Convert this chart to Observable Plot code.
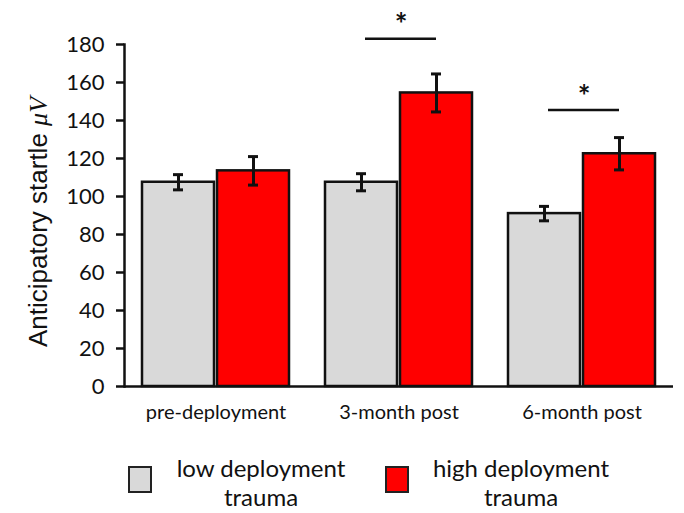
<!DOCTYPE html>
<html><head><meta charset="utf-8">
<script src="https://cdn.jsdelivr.net/npm/d3@7"></script>
<script src="https://cdn.jsdelivr.net/npm/@observablehq/plot@0.6"></script>
<style>
body{margin:0;background:#fff;}
#wrap{position:relative;width:684px;height:513px;font-family:Lato,sans-serif;overflow:hidden;}
#chart svg{display:block;}
.sw{position:absolute;top:41px;height:27px;box-sizing:border-box;border:2px solid #222;}
.lt{position:absolute;top:28px;width:220px;font-size:24px;line-height:29px;text-align:center;color:#111;}
</style></head><body>
<div id="wrap"><div id="chart"></div>
<div id="legend"></div>
</div>
<script>
const categories = ["pre-deployment", "3-month post", "6-month post"];
const groups = ["low deployment trauma", "high deployment trauma"];
const lowMeans = [107.5, 107.5, 91];
const lowErr = [4, 4.5, 3.8];
const highMeans = [113.5, 154.5, 122.5];
const highErr = [7.5, 10, 8.5];
const sigCategories = ["3-month post", "6-month post"];
const sigLevels = [183, 145.5];
const yTicks = [0, 20, 40, 60, 80, 100, 120, 140, 160, 180];
const colors = ["#d9d9d9", "#ff0000"];
const legendLines = [["low deployment", "trauma"], ["high deployment", "trauma"]];

const data = categories.flatMap((c, i) => [
  {cat: c, group: groups[0], mean: lowMeans[i], err: lowErr[i]},
  {cat: c, group: groups[1], mean: highMeans[i], err: highErr[i]}
]);
const sig = sigCategories.map((c, i) => ({cat: c, y: sigLevels[i]}));

const plot = Plot.plot({
  width: 684, height: 425,
  marginLeft: 124, marginRight: 11, marginTop: 44, marginBottom: 39,
  style: {fontFamily: "Lato, sans-serif", background: "#fff", overflow: "visible", color: "#111"},
  fx: {domain: categories, padding: 0, label: null},
  x: {domain: groups, paddingInner: 0.04, paddingOuter: 0.224, axis: null},
  y: {domain: [0, 180], label: null},
  color: {domain: groups, range: colors},
  marks: [
    Plot.barY(data, {fx: "cat", x: "group", y: "mean", fill: "group", stroke: "#111", strokeWidth: 2.5}),
    Plot.ruleX(data, {fx: "cat", x: "group", y1: d => d.mean - d.err, y2: d => d.mean + d.err, stroke: "#111", strokeWidth: 3}),
    Plot.tickY(data, {fx: "cat", x: "group", y: d => d.mean - d.err, insetLeft: 31, insetRight: 31, stroke: "#111", strokeWidth: 3}),
    Plot.tickY(data, {fx: "cat", x: "group", y: d => d.mean + d.err, insetLeft: 31, insetRight: 31, stroke: "#111", strokeWidth: 3}),
    Plot.ruleY([0], {stroke: "#111", strokeWidth: 2.5}),
    Plot.frame({anchor: "left", facetAnchor: "left", stroke: "#111", strokeWidth: 2.5}),
    Plot.axisY({ticks: yTicks, tickSize: 8, tickPadding: 12, fontSize: 22, label: null, strokeWidth: 2.5}),
    Plot.axisFx({anchor: "bottom", tickSize: 0, tickPadding: 18, fontSize: 20, label: null}),
    Plot.ruleY(sig, {fx: "cat", y: "y", insetLeft: 58, insetRight: 54, stroke: "#111", strokeWidth: 2.5}),
    Plot.text(sig, {fx: "cat", y: "y", text: () => "*", dy: -13, dx: 2, fontSize: 30, fontWeight: "bold", fill: "#111"})
  ]
});

const svg = d3.select(plot);
const lab = svg.append("text")
  .attr("transform", "translate(38,222) rotate(-90)")
  .attr("text-anchor", "middle")
  .attr("dominant-baseline", "central")
  .attr("fill", "#111")
  .style("font-size", "26px");
lab.append("tspan").style("font-family", "'Liberation Sans', Arial, sans-serif").text("Anticipatory startle ");
lab.append("tspan").style("font-family", "'Liberation Serif', serif").style("font-style", "italic").text("μV");

document.getElementById("chart").appendChild(plot);

const legend = document.getElementById("legend");
legend.style.position = "absolute"; legend.style.left = "0"; legend.style.top = "425px";
legend.style.width = "684px"; legend.style.height = "88px";
const swLeft = [128, 385], txtCenter = [261, 521];
groups.forEach((g, i) => {
  const sw = document.createElement("div");
  sw.className = "sw"; sw.style.left = swLeft[i] + "px"; sw.style.width = "24px"; sw.style.background = colors[i];
  legend.appendChild(sw);
  const t = document.createElement("div");
  t.className = "lt"; t.style.left = (txtCenter[i] - 110) + "px";
  t.innerHTML = legendLines[i].join("<br>");
  legend.appendChild(t);
});
</script>
</body></html>
